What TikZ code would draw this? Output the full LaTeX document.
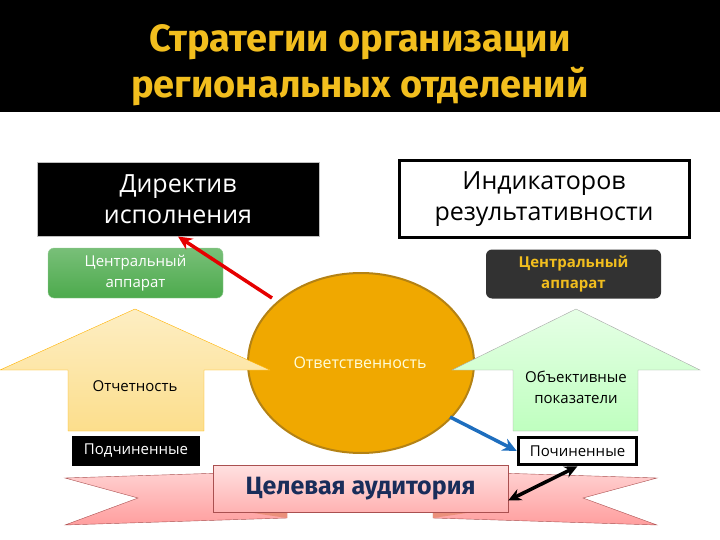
\documentclass[tikz,border=0pt]{standalone}
\usepackage{fontspec}
\setmainfont{Open Sans}
\newfontfamily\headfont{Fira Sans}
\usetikzlibrary{arrows.meta}
\definecolor{titlegold}{RGB}{242,190,30}
\definecolor{boxgreen}{RGB}{76,170,76}
\definecolor{boxdark}{RGB}{50,50,50}
\definecolor{ellorange}{RGB}{240,168,0}
\definecolor{ellborder}{RGB}{180,130,20}
\definecolor{ribbonline}{RGB}{170,80,80}
\definecolor{audblue}{RGB}{25,45,90}
\definecolor{linkblue}{RGB}{30,110,190}
\definecolor{arrowtop}{RGB}{253,238,195}
\definecolor{arrowbottom}{RGB}{252,222,140}

\begin{document}
\begin{tikzpicture}[x=1pt,y=-1pt,
  bigtext/.style={font=\fontsize{25}{31}\selectfont,align=center},
  smalltext/.style={font=\fontsize{15}{21}\selectfont,align=center},
  link/.style={line width=3.5pt,-{Stealth[length=14pt,width=13pt]}}]
\useasboundingbox (0,0) rectangle (720,540);

% title
\fill[black] (0,0) rectangle (720,112);
\node[text=titlegold,font=\headfont\bfseries\fontsize{38}{46}\selectfont,align=center]
  (title) at (360,65) {Стратегии организации\\региональных отделений};

% boxes on top
\node[fill=black,draw=gray!50,line width=1pt,text=white,bigtext,
  minimum width=282,minimum height=73] (dir) at (178,199.5) {Директив\\исполнения};
\node[fill=white,draw=black,line width=3pt,bigtext,
  minimum width=290,minimum height=76] (ind) at (544,199) {Индикаторов\\результативности};

% central apparatus
\node[top color=boxgreen!75,bottom color=boxgreen,draw=boxgreen!60,rounded corners=6pt,
  text=white,smalltext,minimum width=175,minimum height=50] (centl) at (135.5,273) {Центральный\\аппарат};
\node[fill=boxdark,rounded corners=6pt,text=titlegold,smalltext,font=\bfseries\fontsize{15}{21}\selectfont,
  minimum width=175,minimum height=49] (centr) at (573.5,274) {Центральный\\аппарат};

% responsibility
\draw[fill=ellorange,draw=ellborder,line width=2pt] (361,363) ellipse (113 and 90);
\node[text=yellow!15,smalltext,font=\fontsize{16}{20}\selectfont] (resp) at (360,363) {Ответственность};

% left arrow
\draw[top color=arrowtop,bottom color=arrowbottom,draw=orange!60!yellow]
  (135,309) -- (270,370) -- (204,370) -- (204,431) -- (68,431) -- (68,370) -- (0,370) -- cycle;
\node[smalltext] (rep) at (135,386) {Отчетность};

% right arrow
\draw[top color=green!10,bottom color=green!25,draw=gray!70]
  (576,309) -- (700,370) -- (638,370) -- (638,431) -- (513,431) -- (513,370) -- (452,370) -- cycle;
\node[smalltext] (obj) at (576,387) {Объективные\\показатели};

% subordinates
\node[fill=black,text=white,smalltext,minimum width=128,minimum height=30] (subl) at (136,451) {Подчиненные};
\node[fill=white,draw=black,line width=3.5pt,smalltext,minimum width=118,minimum height=27] (subr) at (577.5,451) {Починенные};

% ribbon tails
\draw[top color=red!18,bottom color=red!38,draw=ribbonline]
  (65,478) -- (287,471) -- (287,518) -- (65,525) -- (138,498) -- cycle;
\draw[top color=red!18,bottom color=red!38,draw=ribbonline]
  (657,478) -- (433,471) -- (433,518) -- (657,525) -- (583,498) -- cycle;
\fill[red!45!brown!60] (240,511) -- (287,511) -- (287,518) -- cycle;
\fill[red!45!brown!60] (433,511) -- (480,511) -- (433,518) -- cycle;
% ribbon centre
\node[top color=red!12,bottom color=red!30,draw=ribbonline,minimum width=295,minimum height=47,
  text=audblue,font=\headfont\bfseries\fontsize{25}{30}\selectfont] (aud) at (360.5,488.5) {Целевая аудитория};

% links
\coordinate (redstart) at (272,298);
\coordinate (bluestart) at (450,417);
\draw[link,red!90!black] (redstart) -- (dir.south);
\draw[link,linkblue] (bluestart) -- (subr.west);
\draw[line width=3.5pt,{Stealth[length=13pt,width=12pt]}-{Stealth[length=13pt,width=12pt]}]
  (subr.south) -- ([yshift=-12pt]aud.east);

\end{tikzpicture}
\end{document}
